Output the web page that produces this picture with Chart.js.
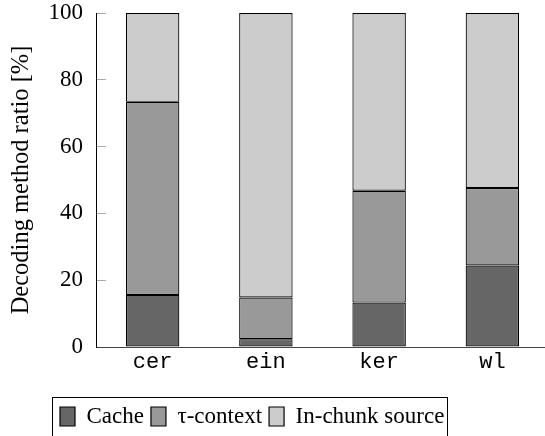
<!DOCTYPE html>
<html>
<head>
<meta charset="utf-8">
<script src="https://cdn.jsdelivr.net/npm/chart.js@4.4.1/dist/chart.umd.min.js"></script>
<style>
  html, body { margin: 0; padding: 0; background: #fff; overflow: hidden; }
  #wrap { width: 545px; height: 436px; overflow: hidden; }
</style>
</head>
<body>
<div id="wrap"><canvas id="ratioChart" width="549" height="438"></canvas></div>
<script>
// data
const categories = ['cer', 'ein', 'ker', 'wl'];
const cacheVals = [15.6, 2.3, 13.3, 24.4];
const tauVals = [57.8, 12.5, 33.5, 23.2];
const chunkVals = [26.6, 85.2, 53.2, 52.4];
const yTicks = [0, 20, 40, 60, 80, 100];

// frame round the legend, and legend shifted to sit under the axis
const legendFrame = {
    id: 'legendFrame',
    afterLayout(chart) {
        chart.legend.left = 53;
    },
    afterDraw(chart) {
        const lg = chart.legend;
        const pad = lg.options.labels.padding;
        const ctx = chart.ctx;
        const x0 = lg.left - 0.5;
        const x1 = Math.round(lg.left + pad + lg.lineWidths[0] - 4) + 0.5;
        ctx.save();
        ctx.strokeStyle = '#000';
        ctx.lineWidth = 1;
        ctx.strokeRect(x0, lg.top - 0.5, x1 - x0, lg.height + 20);
        ctx.restore();
    }
};

const serif = "'Liberation Serif', 'Times New Roman', serif";
Chart.defaults.color = '#000';

const ctx = document.getElementById('ratioChart').getContext('2d');
const ratioChart = new Chart(ctx, {
    type: 'bar',
    data: {
        labels: categories,
        datasets: [
            { label: 'Cache', data: cacheVals, backgroundColor: '#666666' },
            { label: 'τ-context', data: tauVals, backgroundColor: '#999999' },
            { label: 'In-chunk source', data: chunkVals, backgroundColor: '#cccccc' }
        ].map(d => Object.assign(d, {
            borderColor: '#000',
            borderWidth: 1.2,
            borderSkipped: false,
            categoryPercentage: 1,
            barPercentage: 0.472
        }))
    },
    options: {
        responsive: false,
        animation: false,
        devicePixelRatio: 1,
        layout: { padding: { top: 13, left: 0, right: 0, bottom: 0 } },
        plugins: {
            tooltip: { enabled: false },
            legend: {
                position: 'bottom',
                align: 'start',
                labels: {
                    boxWidth: 15,
                    boxHeight: 19,
                    padding: 7,
                    font: { family: serif, size: 23 }
                }
            }
        },
        scales: {
            x: {
                stacked: true,
                offset: true,
                grid: { display: false },
                border: { display: true, color: '#444', width: 1 },
                ticks: {
                    padding: -6,
                    font: { family: "'Liberation Mono', 'Courier New', monospace", size: 22 }
                },
                afterFit(scale) {
                    scale.height = 51;
                    scale.paddingLeft = 0;
                    scale.paddingRight = 0;
                }
            },
            y: {
                stacked: true,
                min: 0,
                max: 100,
                afterBuildTicks(scale) { scale.ticks = yTicks.map(v => ({ value: v })); },
                grid: {
                    drawOnChartArea: false,
                    color: '#aaaaaa',
                    tickLength: -10
                },
                border: { display: true, color: '#000', width: 1 },
                ticks: {
                    padding: 23,
                    font: { family: serif, size: 23 }
                },
                title: {
                    display: true,
                    text: 'Decoding method ratio [%]',
                    padding: { top: 7, bottom: 0 },
                    font: { family: serif, size: 24.5 }
                },
                afterFit(scale) {
                    scale.width = 96;
                    scale.paddingTop = 0;
                    scale.paddingBottom = 0;
                }
            }
        }
    },
    plugins: [legendFrame]
});
</script>
</body>
</html>
